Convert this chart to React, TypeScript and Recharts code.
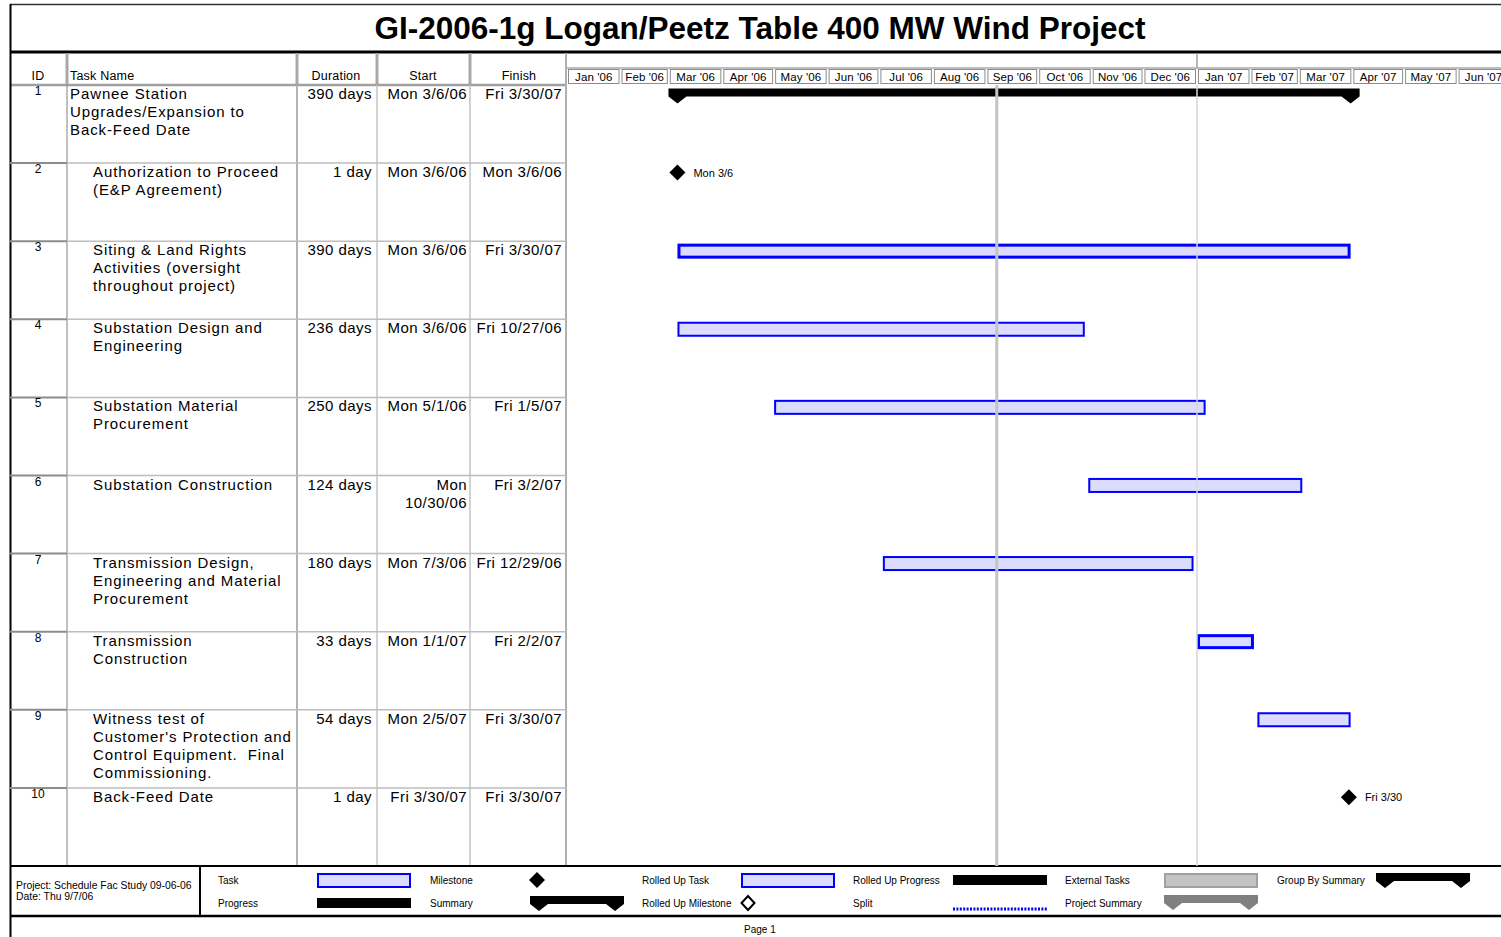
import React from "react";
import { BarChart, Bar, XAxis, YAxis, ReferenceLine } from "recharts";

const FONT = "'Liberation Sans', Arial, Helvetica, sans-serif";

// table columns
const taskIds = ["1", "2", "3", "4", "5", "6", "7", "8", "9", "10"];
const taskNames = [
  ["Pawnee Station", "Upgrades/Expansion to", "Back-Feed Date"],
  ["Authorization to Proceed", "(E&P Agreement)"],
  ["Siting & Land Rights", "Activities (oversight", "throughout project)"],
  ["Substation Design and", "Engineering"],
  ["Substation Material", "Procurement"],
  ["Substation Construction"],
  ["Transmission Design,", "Engineering and Material", "Procurement"],
  ["Transmission", "Construction"],
  ["Witness test of", "Customer's Protection and", "Control Equipment.  Final", "Commissioning."],
  ["Back-Feed Date"],
];
const durations = ["390 days", "1 day", "390 days", "236 days", "250 days", "124 days", "180 days", "33 days", "54 days", "1 day"];
const startLabels = [
  ["Mon 3/6/06"], ["Mon 3/6/06"], ["Mon 3/6/06"], ["Mon 3/6/06"], ["Mon 5/1/06"],
  ["Mon", "10/30/06"], ["Mon 7/3/06"], ["Mon 1/1/07"], ["Mon 2/5/07"], ["Fri 3/30/07"],
];
const finishLabels = ["Fri 3/30/07", "Mon 3/6/06", "Fri 3/30/07", "Fri 10/27/06", "Fri 1/5/07", "Fri 3/2/07", "Fri 12/29/06", "Fri 2/2/07", "Fri 3/30/07", "Fri 3/30/07"];

// gantt values
const startDates = ["2006-03-06", "2006-03-06", "2006-03-06", "2006-03-06", "2006-05-01", "2006-10-30", "2006-07-03", "2007-01-01", "2007-02-05", "2007-03-30"];
const finishDates = ["2007-03-30", "2006-03-06", "2007-03-30", "2006-10-27", "2007-01-05", "2007-03-02", "2006-12-29", "2007-02-02", "2007-03-30", "2007-03-30"];
const taskKinds = ["summary", "milestone", "task", "task", "task", "task", "task", "task", "task", "milestone"];
const milestoneLabels = ["", "Mon 3/6", "", "", "", "", "", "", "", "Fri 3/30"];
const thickBorder = [false, false, true, false, false, false, false, true, false, false];

const monthLabels = ["Jan '06", "Feb '06", "Mar '06", "Apr '06", "May '06", "Jun '06", "Jul '06", "Aug '06", "Sep '06", "Oct '06", "Nov '06", "Dec '06", "Jan '07", "Feb '07", "Mar '07", "Apr '07", "May '07", "Jun '07"];
const statusDate = "2006-09-07";
const yearStart = "2007-01-01";

const dayOf = (s: string) => (Date.parse(s + "T00:00:00Z") - Date.UTC(2006, 0, 1)) / 86400000;
const monthStarts = Array.from({ length: monthLabels.length + 1 }, (_, i) => (Date.UTC(2006, i, 1) - Date.UTC(2006, 0, 1)) / 86400000);

const rows = taskIds.map((id, i) => ({
  id,
  kind: taskKinds[i],
  label: milestoneLabels[i],
  thick: thickBorder[i],
  range: [dayOf(startDates[i]), dayOf(finishDates[i]) + 1],
}));

// layout
const W = 1501;
const H = 937;
const CHART_H = 866;
const PLOT_LEFT = 566;
const PLOT_TOP = 85;
const BAND = (CHART_H - PLOT_TOP) / rows.length;
const PX_PER_DAY = 1.726;
const ORIGIN_X = 567;
const D0 = (PLOT_LEFT - ORIGIN_X) / PX_PER_DAY;
const D1 = (W - ORIGIN_X) / PX_PER_DAY;

const MonthTick = (props: any) => {
  const { x, payload } = props;
  const idx = monthStarts.indexOf(payload.value);
  if (idx < 0) return null;
  const w = (monthStarts[idx + 1] - monthStarts[idx]) * PX_PER_DAY;
  const lab = monthLabels[idx];
  return (
    <g>
      {idx > 0 && lab.startsWith("Jan") && (
        <line x1={x} x2={x} y1={53} y2={68} stroke="#a0a0a0" strokeWidth={1.5} />
      )}
      <rect x={x + 1.5} y={69.5} width={w - 3} height={14} fill="#fff" stroke="#8c8c8c" strokeWidth={1} />
      <text x={x + w / 2} y={81} textAnchor="middle" fontSize={11.5} fontFamily={FONT} fill="#000" letterSpacing={0.1}>
        {lab}
      </text>
    </g>
  );
};

const RowTick = (props: any) => {
  const { y, payload } = props;
  const i = taskIds.indexOf(String(payload.value));
  if (i < 0) return null;
  const top = y - BAND / 2;
  const txt = { fontFamily: FONT, fontSize: 15, fill: "#000", letterSpacing: 0.9 };
  const num = { fontFamily: FONT, fontSize: 15, fill: "#000", letterSpacing: 0.45 };
  const nameX = i === 0 ? 70 : 93;
  return (
    <g>
      {i > 0 && (
        <>
          <line x1={10} x2={67} y1={top} y2={top} stroke="#8c8c8c" strokeWidth={2} />
          <line x1={67} x2={566} y1={top} y2={top} stroke="#bdbdbd" strokeWidth={1.5} />
        </>
      )}
      <text x={38} y={top + 10} textAnchor="middle" fontFamily={FONT} fontSize={12} fill="#000">
        {taskIds[i]}
      </text>
      {taskNames[i].map((ln, k) => (
        <text key={k} x={nameX} y={top + 14 + k * 18} {...txt} xmlSpace="preserve">
          {ln}
        </text>
      ))}
      <text x={372} y={top + 14} textAnchor="end" {...num}>
        {durations[i]}
      </text>
      {startLabels[i].map((ln, k) => (
        <text key={k} x={467} y={top + 14 + k * 18} textAnchor="end" {...num}>
          {ln}
        </text>
      ))}
      <text x={562} y={top + 14} textAnchor="end" {...num}>
        {finishLabels[i]}
      </text>
    </g>
  );
};

const GanttShape = (props: any) => {
  const { x, y, width, height, payload } = props;
  const top = y + height / 2 - BAND / 2;
  if (payload.kind === "summary") {
    const x2 = x + width;
    const a = top + 3;
    const b = top + 11;
    const c = top + 18;
    const d = `M${x - 9},${a} L${x2 + 9},${a} L${x2 + 9},${b} L${x2},${c} L${x2 - 9},${b} L${x + 9},${b} L${x},${c} L${x - 9},${b} Z`;
    return <path d={d} fill="#000" />;
  }
  if (payload.kind === "milestone") {
    const cy = top + 9;
    return (
      <g>
        <path d={`M${x},${cy - 8} L${x + 8},${cy} L${x},${cy + 8} L${x - 8},${cy} Z`} fill="#000" />
        <text x={x + 16} y={cy + 4} fontFamily={FONT} fontSize={11} fill="#000">
          {payload.label}
        </text>
      </g>
    );
  }
  const sw = payload.thick ? 3 : 2;
  return (
    <rect
      x={x + sw / 2}
      y={top + 2 + sw / 2}
      width={Math.max(width - sw, 1)}
      height={15 - sw}
      fill="#dcdcff"
      stroke="#0000ff"
      strokeWidth={sw}
    />
  );
};

const legendText = { fontFamily: FONT, fontSize: 10, fill: "#000" };

const summaryPath = (x1: number, x2: number, y1: number, y2: number, tip: number) =>
  `M${x1},${y1} L${x2},${y1} L${x2},${y2} L${x2 - 9},${tip} L${x2 - 18},${y2} L${x1 + 18},${y2} L${x1 + 9},${tip} L${x1},${y2} Z`;

function Frame() {
  const hdr = { fontFamily: FONT, fontSize: 12.5, fill: "#000", letterSpacing: 0.2 };
  return (
    <svg width={W} height={H} style={{ position: "absolute", left: 0, top: 0 }}>
      <rect x={0} y={0} width={W} height={H} fill="#fff" />
      {/* title */}
      <line x1={10} x2={W} y1={4.5} y2={4.5} stroke="#333" strokeWidth={1.5} />
      <text x={760} y={39} textAnchor="middle" fontFamily={FONT} fontSize={31.5} fontWeight="bold" fill="#000">
        GI-2006-1g Logan/Peetz Table 400 MW Wind Project
      </text>
      <line x1={10} x2={W} y1={52} y2={52} stroke="#000" strokeWidth={3} />

      {/* table header */}
      {[67, 297, 377, 470].map((cx) => (
        <line key={cx} x1={cx} x2={cx} y1={53} y2={85} stroke="#a8a8a8" strokeWidth={3} />
      ))}
      <line x1={10} x2={566} y1={85} y2={85} stroke="#a0a0a0" strokeWidth={2.5} />
      <line x1={566} x2={W} y1={68} y2={68} stroke="#a8a8a8" strokeWidth={1.5} />
      <line x1={566} x2={566} y1={53} y2={866} stroke="#b0b0b0" strokeWidth={2} />
      <text x={38} y={80} textAnchor="middle" {...hdr}>ID</text>
      <text x={70} y={80} {...hdr}>Task Name</text>
      <text x={336} y={80} textAnchor="middle" {...hdr}>Duration</text>
      <text x={423} y={80} textAnchor="middle" {...hdr}>Start</text>
      <text x={519} y={80} textAnchor="middle" {...hdr}>Finish</text>

      {/* table body columns */}
      <line x1={67} x2={67} y1={85} y2={866} stroke="#808080" strokeWidth={1} />
      <line x1={297} x2={297} y1={85} y2={866} stroke="#b4b4b4" strokeWidth={2} />
      <line x1={377} x2={377} y1={85} y2={866} stroke="#c4c4c4" strokeWidth={1.5} />
      <line x1={470} x2={470} y1={85} y2={866} stroke="#c4c4c4" strokeWidth={1.5} />

      {/* legend block */}
      <line x1={10} x2={W} y1={866} y2={866} stroke="#000" strokeWidth={2} />
      <line x1={200} x2={200} y1={866} y2={916} stroke="#000" strokeWidth={2} />
      <line x1={10} x2={W} y1={916} y2={916} stroke="#000" strokeWidth={2.5} />
      <text x={16} y={889} fontFamily={FONT} fontSize={10.4} fill="#000">Project: Schedule Fac Study 09-06-06</text>
      <text x={16} y={900} fontFamily={FONT} fontSize={10.4} fill="#000">Date: Thu 9/7/06</text>

      <text x={218} y={884} {...legendText}>Task</text>
      <rect x={318} y={874} width={92} height={13} fill="#dcdcff" stroke="#0000ff" strokeWidth={2} />
      <text x={218} y={907} {...legendText}>Progress</text>
      <rect x={317} y={898} width={94} height={10} fill="#000" />

      <text x={430} y={884} {...legendText}>Milestone</text>
      <path d="M537,872 L545,880 L537,888 L529,880 Z" fill="#000" />
      <text x={430} y={907} {...legendText}>Summary</text>
      <path d={summaryPath(530, 624, 896, 904, 911)} fill="#000" />

      <text x={642} y={884} {...legendText}>Rolled Up Task</text>
      <rect x={742} y={874} width={92} height={13} fill="#dcdcff" stroke="#0000ff" strokeWidth={2} />
      <text x={642} y={907} {...legendText}>Rolled Up Milestone</text>
      <path d="M748,896 L754.5,903 L748,910 L741.5,903 Z" fill="#fff" stroke="#000" strokeWidth={2} />

      <text x={853} y={884} {...legendText}>Rolled Up Progress</text>
      <rect x={953} y={875} width={94} height={10} fill="#000" />
      <text x={853} y={907} {...legendText}>Split</text>
      <line x1={953} x2={1047} y1={909} y2={909} stroke="#0000ff" strokeWidth={3} strokeDasharray="2 1.4" />

      <text x={1065} y={884} {...legendText}>External Tasks</text>
      <rect x={1165} y={874} width={92} height={13} fill="#c4c4c4" stroke="#a0a0a0" strokeWidth={2} />
      <text x={1065} y={907} {...legendText}>Project Summary</text>
      <path d={summaryPath(1164, 1258, 895, 903, 910)} fill="#808080" />

      <text x={1277} y={884} {...legendText}>Group By Summary</text>
      <path d={summaryPath(1376, 1470, 873, 881, 888)} fill="#000" />

      <text x={744} y={933} {...legendText}>Page 1</text>
      <line x1={10.5} x2={10.5} y1={4} y2={H} stroke="#000" strokeWidth={2} />
    </svg>
  );
}

export default function App() {
  return (
    <div style={{ position: "fixed", left: 0, top: 0, width: W, height: H, overflow: "hidden", background: "#fff" }}>
      <Frame />
      <div style={{ position: "absolute", left: 0, top: 0 }}>
        <BarChart
          width={W}
          height={CHART_H}
          data={rows}
          layout="vertical"
          margin={{ top: 68, right: 0, bottom: 0, left: 10 }}
          barSize={15}
        >
          <XAxis
            type="number"
            orientation="top"
            domain={[D0, D1]}
            allowDataOverflow
            ticks={monthStarts.slice(0, monthLabels.length)}
            interval={0}
            height={17}
            axisLine={false}
            tickLine={false}
            tick={MonthTick}
          />
          <YAxis
            type="category"
            dataKey="id"
            width={556}
            axisLine={false}
            tickLine={false}
            interval={0}
            tick={RowTick}
          />
          <Bar dataKey="range" isAnimationActive={false} shape={GanttShape} />
          <ReferenceLine x={dayOf(yearStart)} stroke="#d6d6d6" strokeWidth={1.5} />
          <ReferenceLine x={dayOf(statusDate)} stroke="#c4c4c4" strokeWidth={3} />
        </BarChart>
      </div>
    </div>
  );
}
